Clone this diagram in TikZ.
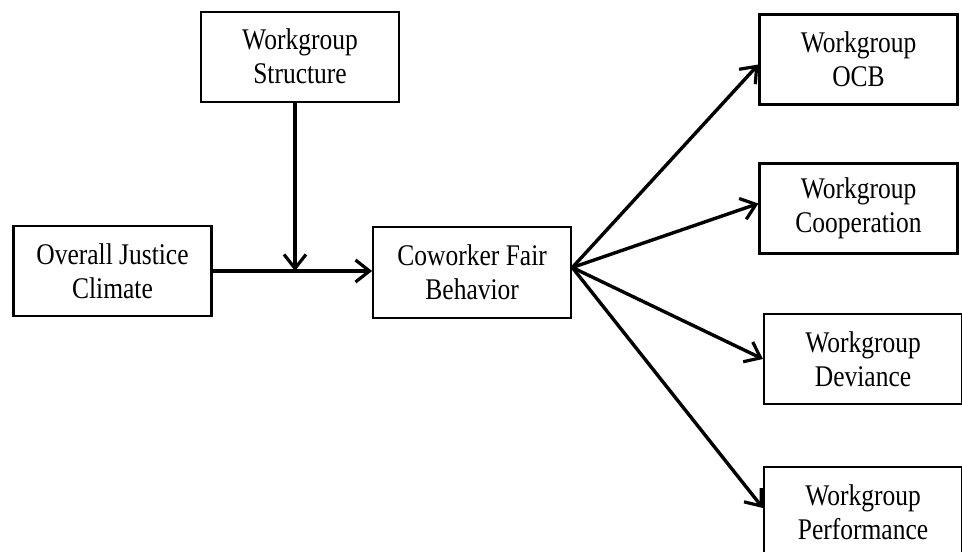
\documentclass[tikz,border=0pt]{standalone}
\usepackage{fontspec}
\setmainfont{Liberation Serif}[FakeStretch=0.85]
\usetikzlibrary{arrows.meta}
\begin{document}
\begin{tikzpicture}[x=1pt,y=1pt,
  box/.style={draw=black, line width=2.2pt, rectangle, inner sep=0pt,
    minimum width=198pt, minimum height=90pt, align=center,
    font=\fontsize{30}{34}\selectfont},
  conn/.style={line width=3.4pt, -{Straight Barb[length=14pt,width=22pt,line width=3.2pt]}}
]
\useasboundingbox (0,0) rectangle (962,-552);
\node[box] (struct) at (300,-56.7) {Workgroup\\Structure};
\node[box] (overall) at (112.5,-271) {Overall Justice\\Climate};
\node[box, minimum height=91.5pt] (cfb) at (472.2,-272.5) {Coworker Fair\\Behavior};
\node[box] (ocb) at (858.5,-59.5) {Workgroup\\OCB};
\node[box] (coop) at (858.5,-208.5) {Workgroup\\Cooperation};
\node[box] (dev) at (863,-359) {Workgroup\\Deviance};
\node[box] (perf) at (863,-512) {Workgroup\\Performance};

\coordinate (fan) at ([yshift=5pt]cfb.east);
\coordinate (top) at ([xshift=-5pt]struct.south);
\coordinate (j) at (top |- overall.east);

\draw[conn] (overall.east) -- (overall.east -| cfb.west);
\draw[conn] (top) -- (j);
\draw[conn] (fan) -- ([yshift=-5pt]ocb.west);
\draw[conn] (fan) -- ([yshift=5pt]coop.west);
\draw[conn] (fan) -- (dev.west);
\draw[conn] (fan) -- ([yshift=4pt]perf.west);
\end{tikzpicture}
\end{document}
